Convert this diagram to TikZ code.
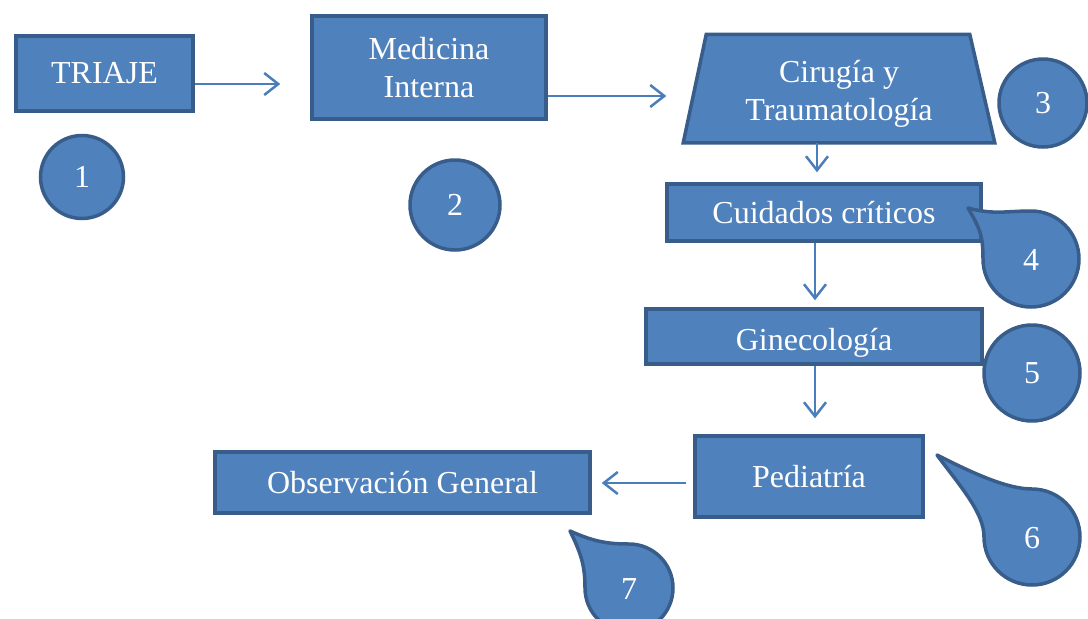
\documentclass[tikz,border=0pt]{standalone}
\usepackage{fontspec}
\setmainfont{Liberation Serif}
\usetikzlibrary{arrows.meta,calc}
\definecolor{boxfill}{HTML}{4F81BD}
\definecolor{boxline}{HTML}{385D8A}
\definecolor{arrowblue}{HTML}{4A7EBB}

\tikzset{
  unit/.style={draw=boxline, fill=boxfill, line width=3.5pt, text=white,
    inner sep=0pt, align=center, font=\fontsize{32}{38}\selectfont},
  stage/.style={unit, rectangle},
  badge/.style={unit, circle},
  drop/.style={draw=boxline, fill=boxfill, line width=3.5pt, line join=round},
  droptext/.style={text=white, inner sep=0pt, font=\fontsize{32}{38}\selectfont},
  flow/.style={draw=arrowblue, line width=2.5pt,
    -{Straight Barb[length=14pt,width=22pt]}},
}

% droplet badge: #1 name, #2 label, #3 cx, #4 cy, #5 radius, #6 tip
\newcommand\droplet[6]{%
  \coordinate (#1-c) at (#3,#4);
  \coordinate (#1-t) at #6;
  \coordinate (#1-l) at ($(#1-c)+(-#5,0)$);
  \coordinate (#1-p) at ($(#1-c)+(0,-#5)$);
  \coordinate (#1-lq) at ($(#1-l)!0.3!(#1-c)$);
  \coordinate (#1-pq) at ($(#1-p)!0.3!(#1-c)$);
  \draw[drop] (#1-p) arc[start angle=-90,end angle=180,radius=#5]
    .. controls ($(#1-l)+(0,-0.5*#5)$) and ($(#1-t)!0.4!(#1-lq)$) .. (#1-t)
    .. controls ($(#1-t)!0.4!(#1-pq)$) and ($(#1-p)+(-0.5*#5,0)$) .. cycle;
  \node[droptext] (#1) at ($(#1-c)+(0,1)$) {#2};
}

\begin{document}
\begin{tikzpicture}[x=1pt,y=-1pt]
\useasboundingbox (0,0) rectangle (1088,619);

% service boxes
\node[stage, minimum width=177pt, minimum height=75pt] (triaje) at (104.5,73.5) {TRIAJE};
\node[stage, minimum width=234pt, minimum height=103pt] (med) at (429,67.5) {Medicina\\Interna};
\node[minimum width=308pt, minimum height=105pt, inner sep=0pt, outer sep=1.75pt] (cir) at (839,88.5) {};
\draw[drop, line join=miter] (cir.south west) -- (cir.south east)
  -- ([xshift=-25pt]cir.north east) -- ([xshift=23pt]cir.north west) -- cycle;
\node[droptext, align=center] (cirtext) at (839,94) {Cirugía y\\Traumatología};
\node[stage, minimum width=314pt, minimum height=57pt] (cuid) at (824,212.5) {Cuidados críticos};
\node[stage, minimum width=336pt, minimum height=55pt, text height=34pt, text depth=7pt] (gine) at (814,336.5) {Ginecología};
\node[stage, minimum width=228pt, minimum height=81pt] (ped) at (809,476.5) {Pediatría};
\node[stage, minimum width=375pt, minimum height=61pt] (obs) at (402.5,482.5) {Observación General};

% numbered badges
\node[badge, minimum size=83pt] (n1) at (82,177) {1};
\node[badge, minimum size=90pt] (n2) at (455,205) {2};
\node[badge, minimum size=88pt] (n3) at (1043,103) {3};
\droplet{n4}{4}{1031}{259}{48}{(968,208)}
\node[badge, minimum size=96pt] (n5) at (1032,373) {5};
\droplet{n6}{6}{1032}{537}{48}{(937,455)}
\droplet{n7}{7}{629}{588}{44}{(570,531)}

% flow between services
\draw[flow, shorten >=30pt] ([yshift=-10.5pt]triaje.east) -- ([yshift=-10.5pt]triaje.east -| med.west);
\draw[flow, shorten >=17pt] ([yshift=-28.5pt]med.east) -- ([yshift=-28.5pt]med.east -| cir.west);
\draw[flow, shorten >=10pt] ([xshift=-22pt]cir.south) -- ([xshift=-22pt]cir.south |- cuid.north);
\draw[flow, shorten >=7pt] ([xshift=-9pt]cuid.south) -- ([xshift=-9pt]cuid.south |- gine.north);
\draw[flow, shorten >=16pt] ([xshift=1pt]gine.south) -- ([xshift=1pt]gine.south |- ped.north);
\draw[flow, shorten <=7pt, shorten >=10pt] ([yshift=-6.5pt]ped.west) -- ([yshift=-6.5pt]ped.west -| obs.east);
\end{tikzpicture}
\end{document}
